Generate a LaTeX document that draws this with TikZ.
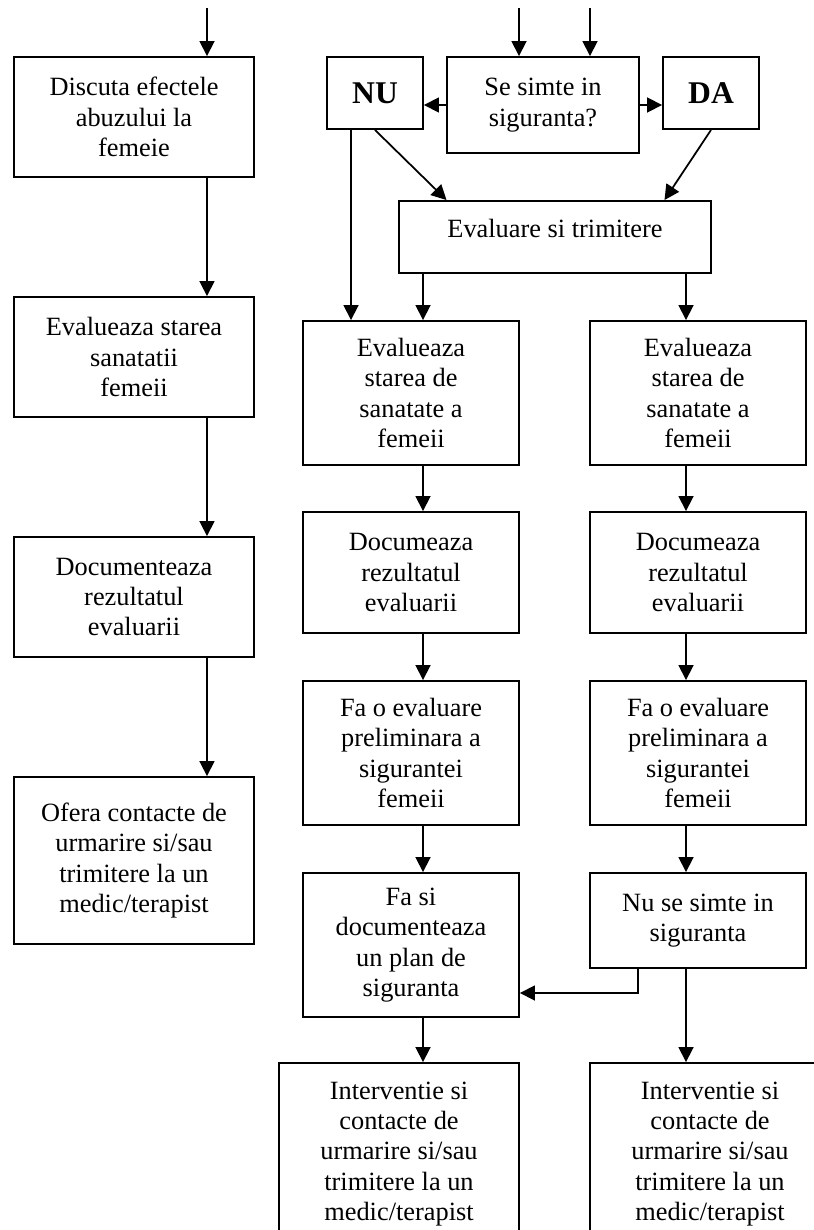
\documentclass[tikz,border=0pt]{standalone}
\usepackage{fontspec}
\setmainfont{Liberation Serif}
\usetikzlibrary{arrows.meta}

\begin{document}
\begin{tikzpicture}[x=0.02cm, y=-0.02cm,
    font=\fontsize{15}{17.3}\selectfont,
    box/.style={draw, line width=1.1pt, align=center, inner sep=0pt},
    arr/.style={-{Triangle[length=0.3cm, width=0.3cm]}, line width=1pt},
    yesno/.style={font=\fontsize{18}{20}\selectfont\bfseries}]
    \useasboundingbox (0,0) rectangle (814,1230);

    % Left column
    \node[box, minimum width=4.8cm, minimum height=2.4cm] (disc) at (134,117) {Discuta efectele\\abuzului la\\femeie};
    \node[box, minimum width=4.8cm, minimum height=2.4cm] (evall) at (134,357) {Evalueaza starea\\sanatatii\\femeii};
    \node[box, minimum width=4.8cm, minimum height=2.4cm] (docl) at (134,597) {Documenteaza\\rezultatul\\evaluarii};
    \node[box, minimum width=4.8cm, minimum height=3.34cm] (ofera) at (134,860.5) {Ofera contacte de\\urmarire si/sau\\trimitere la un\\medic/terapist};

    % Question
    \node[box, yesno, minimum width=1.92cm, minimum height=1.44cm] (nu) at (375,93) {NU};
    \node[box, minimum width=3.84cm, minimum height=1.92cm] (safe) at (543,105) {Se simte in\\siguranta?};
    \node[box, yesno, minimum width=1.92cm, minimum height=1.44cm] (da) at (711,93) {DA};
    \node[box, text depth=10pt, minimum width=6.24cm, minimum height=1.44cm] (refer) at (555,237) {Evaluare si trimitere};

    % Middle column
    \node[box, minimum width=4.32cm, minimum height=2.88cm] (evm) at (411,393) {Evalueaza\\starea de\\sanatate a\\femeii};
    \node[box, minimum width=4.32cm, minimum height=2.42cm] (docm) at (411,572.5) {Documeaza\\rezultatul\\evaluarii};
    \node[box, minimum width=4.32cm, minimum height=2.88cm] (prem) at (411,753) {Fa o evaluare\\preliminara a\\sigurantei\\femeii};
    \node[box, minimum width=4.32cm, minimum height=2.88cm] (plan) at (411,945) {Fa si\\documenteaza\\un plan de\\siguranta};
    \node[box, minimum width=4.8cm, minimum height=3.64cm] (intm) at (399,1154) {Interventie si\\contacte de\\urmarire si/sau\\trimitere la un\\medic/terapist};

    % Right column
    \node[box, minimum width=4.32cm, minimum height=2.88cm] (evr) at (698,393) {Evalueaza\\starea de\\sanatate a\\femeii};
    \node[box, minimum width=4.32cm, minimum height=2.42cm] (docr) at (698,572.5) {Documeaza\\rezultatul\\evaluarii};
    \node[box, minimum width=4.32cm, minimum height=2.88cm] (prer) at (698,753) {Fa o evaluare\\preliminara a\\sigurantei\\femeii};
    \node[box, minimum width=4.32cm, minimum height=1.9cm] (unsafe) at (698,920.5) {Nu se simte in\\siguranta};
    \node[box, minimum width=4.8cm, minimum height=3.64cm] (intr) at (710,1154) {Interventie si\\contacte de\\urmarire si/sau\\trimitere la un\\medic/terapist};

    % Incoming arrows
    \coordinate (inl) at (207,8);
    \coordinate (inq1) at (519,8);
    \coordinate (inq2) at (590,8);
    \draw[arr] (inl) -- (inl |- disc.north);
    \draw[arr] (inq1) -- (inq1 |- safe.north);
    \draw[arr] (inq2) -- (inq2 |- safe.north);

    % Left arrows
    \draw[arr] ([xshift=1.46cm]disc.south) -- ([xshift=1.46cm]evall.north);
    \draw[arr] ([xshift=1.46cm]evall.south) -- ([xshift=1.46cm]docl.north);
    \draw[arr] ([xshift=1.46cm]docl.south) -- ([xshift=1.46cm]ofera.north);

    % Answer arrows
    \draw[arr] (safe.west) -- (safe.west -| nu.east);
    \draw[arr] (safe.east) -- (safe.east -| da.west);
    \draw[arr] ([xshift=-0.48cm]nu.south) -- ([xshift=-0.48cm]nu.south |- evm.north);
    \draw[arr] (nu.south) -- ([xshift=-2.17cm]refer.north);
    \draw[arr] (da.south) -- ([xshift=2.19cm]refer.north);
    \draw[arr] ([xshift=0.24cm]evm.north |- refer.south) -- ([xshift=0.24cm]evm.north);
    \draw[arr] ([xshift=-0.24cm]evr.north |- refer.south) -- ([xshift=-0.24cm]evr.north);

    % Middle arrows
    \draw[arr] ([xshift=0.24cm]evm.south) -- ([xshift=0.24cm]docm.north);
    \draw[arr] ([xshift=0.24cm]docm.south) -- ([xshift=0.24cm]prem.north);
    \draw[arr] ([xshift=0.24cm]prem.south) -- ([xshift=0.24cm]plan.north);
    \draw[arr] ([xshift=0.24cm]plan.south) -- ([xshift=0.24cm]plan.south |- intm.north);

    % Right arrows
    \draw[arr] ([xshift=-0.24cm]evr.south) -- ([xshift=-0.24cm]docr.north);
    \draw[arr] ([xshift=-0.24cm]docr.south) -- ([xshift=-0.24cm]prer.north);
    \draw[arr] ([xshift=-0.24cm]prer.south) -- ([xshift=-0.24cm]unsafe.north);
    \draw[arr] ([xshift=-0.24cm]unsafe.south) -- ([xshift=-0.24cm]unsafe.south |- intr.north);
    \draw[arr] ([xshift=-1.2cm]unsafe.south) |- ([yshift=-0.96cm]plan.east);
\end{tikzpicture}
\end{document}
